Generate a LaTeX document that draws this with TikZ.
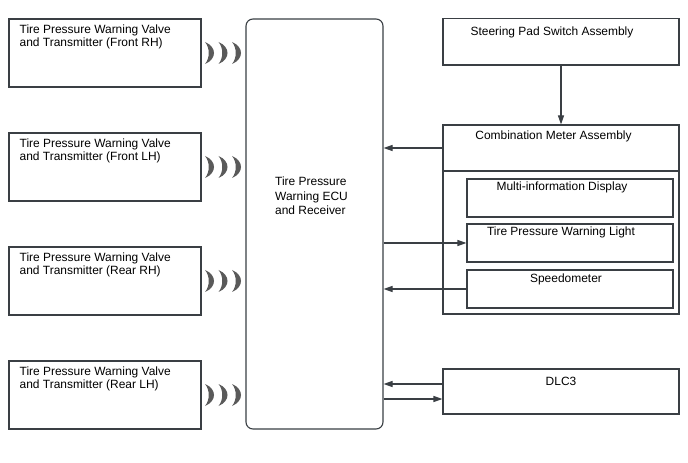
\documentclass[tikz,border=0pt]{standalone}
\usepackage{fontspec}
\setmainfont{Liberation Sans}
\usetikzlibrary{arrows.meta,positioning}
\definecolor{ln}{HTML}{3A3F44}
\definecolor{wave}{HTML}{5A5A5A}
\tikzset{
  box/.style={draw=ln, line width=1.1bp, inner sep=0, fill=white},
  lbl/.style={inner sep=0, font=\fontsize{12}{13.5}\selectfont, align=left},
  arr/.style={draw=ln, line width=1.1bp, -{Triangle[length=9bp,width=6bp]}},
}
\newcommand{\crescents}[1]{%
  \foreach \xx in {205,218.5,232}{
    \fill[wave] (\xx,#1-11) .. controls (\xx+12,#1-6) and (\xx+12,#1+6) .. (\xx,#1+11)
      .. controls (\xx+5,#1+5) and (\xx+5,#1-5) .. cycle;
  }}
\begin{document}
\begin{tikzpicture}[x=1bp,y=-1bp]
\useasboundingbox[fill=white] (0,0) rectangle (688,463);
% left boxes
\foreach \n/\cy/\t in {fr/53/Front RH, fl/167/Front LH, rr/281/Rear RH, rl/395/Rear LH}{
  \node[box, minimum width=192bp, minimum height=68bp] (\n) at (105,\cy) {};
  \node[lbl, anchor=north west] (\n t) at ([xshift=11bp,yshift=-6bp]\n.north west)
    {Tire Pressure Warning Valve\\and Transmitter (\t)};
  \crescents{\cy}
}
% ECU
\node[box, rounded corners=7bp, minimum width=137bp, minimum height=410bp] (ecu) at (314.5,224) {};
\node[lbl, anchor=north west, font=\fontsize{12}{14.5}\selectfont] (ecut) at (275,177) {Tire Pressure\\Warning ECU\\and Receiver};
% right
\node[box, minimum width=236bp, minimum height=46.5bp] (steer) at (561,41.75) {};
\node[lbl] (steert) at (552,32) {Steering Pad Switch Assembly};
\node[box, minimum width=236bp, minimum height=189bp] (comb) at (561,219.5) {};
\draw[ln, line width=1.1bp] (comb.west |- 0,171) coordinate (dl) -- (comb.east |- 0,171) coordinate (dr);
\node[lbl] (combt) at (553.5,136) {Combination Meter Assembly};
\node[box, minimum width=206bp, minimum height=38bp] (mid) at (570,198) {};
\node[lbl] (midt) at (562,187) {Multi-information Display};
\node[box, minimum width=206bp, minimum height=38bp] (light) at (570,243) {};
\node[lbl] (lightt) at (561,232) {Tire Pressure Warning Light};
\node[box, minimum width=206bp, minimum height=38bp] (speed) at (570,289) {};
\node[lbl] (speedt) at (566,279) {Speedometer};
\node[box, minimum width=236bp, minimum height=45bp] (dlc) at (561,391.5) {};
\node[lbl] (dlct) at (561,381) {DLC3};
% arrows
\draw[arr] (steer.south) -- (comb.north -| steer.south);
\draw[arr] (comb.west |- 0,148) -- (ecu.east |- 0,148);
\draw[arr] (ecu.east |- light.west) -- (light.west);
\draw[arr] (speed.west) -- (ecu.east |- speed.west);
\draw[arr] (dlc.west |- 0,384) -- (ecu.east |- 0,384);
\draw[arr] (ecu.east |- 0,399) -- (dlc.west |- 0,399);
\end{tikzpicture}
\end{document}
